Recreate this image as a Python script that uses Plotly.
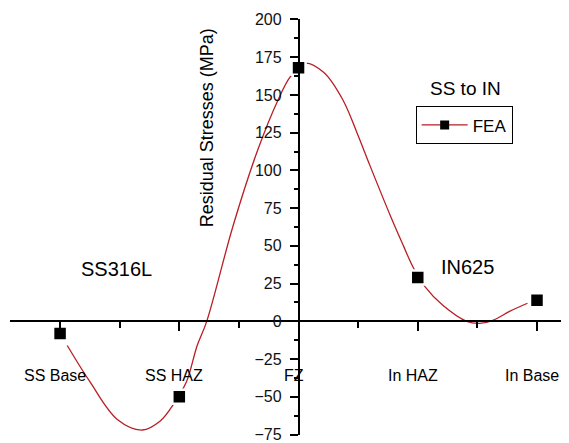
import plotly.graph_objects as go

# ---- data ----
categories = ["SS Base", "SS HAZ", "FZ", "In HAZ", "In Base"]
cat_pos = [0, 1, 2, 3, 4]
fea_values = [-8, -50, 168, 29, 14]

# smoothed curve (category-position, MPa)
curve_x = [0.06, 0.25, 0.48, 0.69, 0.84, 0.95, 1.06, 1.15, 1.23, 1.45, 1.66, 1.83, 1.93,
           2.05, 2.21, 2.37, 2.49, 2.60, 2.77, 2.88, 2.96, 3.06, 3.21, 3.41, 3.52, 3.63, 3.77, 3.92]
curve_y = [-16, -40, -65, -72, -66, -55, -40, -16, 0, 63, 114, 147, 162,
           171, 165, 147, 125, 103, 70, 50, 36, 23, 10.6, 0, -1.3, 0.7, 6.6, 12]

y_ticks = [-75, -50, -25, 0, 25, 50, 75, 100, 125, 150, 175, 200]

FONT = "Liberation Sans, Arial, sans-serif"
RED = "#b81e24"

x_min, x_max = -0.42, 4.26
y_min, y_max = -75.3, 200.3

fig = go.Figure()
fig.add_trace(go.Scatter(x=curve_x, y=curve_y, mode="lines", line=dict(color=RED, width=1.3, shape="spline", smoothing=1.0),
                         showlegend=False, hoverinfo="skip"))
fig.add_trace(go.Scatter(x=cat_pos, y=fea_values, mode="markers",
                         marker=dict(symbol="square", size=14, color="black", line=dict(color="white", width=2.5)),
                         showlegend=False))
fig.add_trace(go.Scatter(x=[None], y=[None], mode="lines+markers", name="FEA",
                         line=dict(color=RED, width=1.3),
                         marker=dict(symbol="square", size=9, color="black")))

y_pos = (2 - x_min) / (x_max - x_min)
x_pos = (0 - y_min) / (y_max - y_min)

# page body has an 8px offset, so the figure is sized/margined to compensate
fig.update_layout(
    width=561, height=435,
    margin=dict(l=2, r=1, t=11, b=8, autoexpand=False),
    paper_bgcolor="white", plot_bgcolor="white",
    font=dict(family=FONT, color="black", size=15),
    xaxis=dict(range=[x_min, x_max], anchor="free", position=x_pos, showgrid=False, zeroline=False,
               showline=True, linecolor="black", linewidth=1.5, automargin=False,
               tickmode="linear", tick0=0, dtick=1, ticks="outside", ticklen=9, tickwidth=1.5, tickcolor="black",
               minor=dict(tickmode="linear", tick0=0.5, dtick=1, ticks="outside", ticklen=6, tickwidth=1.5, tickcolor="black"),
               showticklabels=False),
    yaxis=dict(range=[y_min, y_max], anchor="free", position=y_pos, showgrid=False, zeroline=False,
               showline=True, linecolor="black", linewidth=1.5, automargin=False,
               tickmode="array", tickvals=y_ticks, ticks="outside", ticklen=8, tickwidth=1.5, tickcolor="black",
               minor=dict(tickmode="linear", tick0=12.5, dtick=25, ticks="outside", ticklen=4, tickwidth=1.5, tickcolor="black"),
               ticklabelstandoff=5, ticklabeloverflow="allow",
               tickfont=dict(size=16, family=FONT, color="#111")),
    legend=dict(x=0.727, y=0.79, xanchor="left", yanchor="top", bordercolor="black", borderwidth=1,
                bgcolor="white", font=dict(size=17, family=FONT), itemwidth=46,
                tracegroupgap=0),
    showlegend=True,
)

for cx, lab in zip(cat_pos, categories):
    fig.add_annotation(x=cx, y=-36, xref="x", yref="y", text=lab, showarrow=False, xshift=-5,
                       font=dict(size=16, family=FONT), xanchor="center", yanchor="middle")

fig.add_annotation(x=1.233, y=128, xref="x", yref="y", text="Residual Stresses (MPa)", textangle=-90,
                   showarrow=False, font=dict(size=18, family=FONT))
fig.add_annotation(x=0.47, y=35, xref="x", yref="y", text="SS316L", showarrow=False, font=dict(size=20, family=FONT))
fig.add_annotation(x=3.42, y=36, xref="x", yref="y", text="IN625", showarrow=False, font=dict(size=20, family=FONT))
fig.add_annotation(x=3.40, y=154, xref="x", yref="y", text="SS to IN", showarrow=False, font=dict(size=19, family=FONT))

fig.write_html("out.html")
